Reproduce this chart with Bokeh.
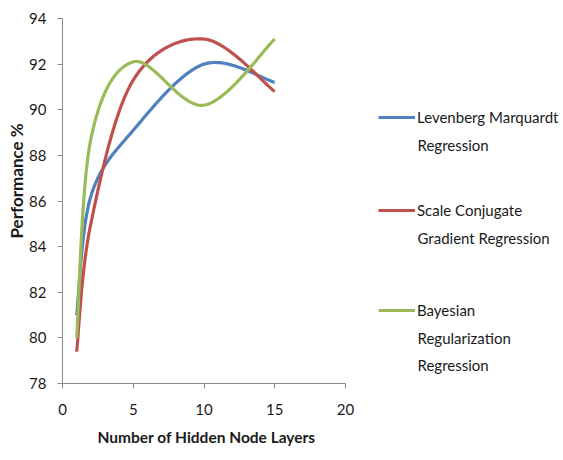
import numpy as np
from bokeh.plotting import figure
from bokeh.models import Legend, LegendItem, Label, Range1d, SingleIntervalTicker, Title
from bokeh.embed import file_html
from bokeh.resources import INLINE

# ---- data ----
hidden_layers = [1, 2, 5, 10, 15]
levenberg = [81.0, 86.2, 89.1, 92.0, 91.2]
scale_conjugate = [79.4, 85.0, 91.3, 93.1, 90.8]
bayesian = [80.0, 88.7, 92.1, 90.2, 93.1]

x_ticks_max = 20
x_title = "Number of Hidden Node Layers"
y_title = "Performance %"
series_names = ["Levenberg Marquardt", "Scale Conjugate", "Bayesian"]
series_more = [["Regression"], ["Gradient Regression"], ["Regularization", "Regression"]]
colors = ["#4F81BD", "#C0504D", "#9BBB59"]


def smooth(xs, ys, n=40):
    """Excel-style smoothed line (Catmull-Rom as cubic Bezier)."""
    pts = np.column_stack([xs, ys]).astype(float)
    P = np.vstack([pts[0], pts, pts[-1]])
    out = []
    for i in range(1, len(P) - 2):
        p0, p1, p2, p3 = P[i - 1], P[i], P[i + 1], P[i + 2]
        c1 = p1 + (p2 - p0) / 6.0
        c2 = p2 - (p3 - p1) / 6.0
        t = np.linspace(0, 1, n)[:, None]
        seg = (1 - t) ** 3 * p1 + 3 * (1 - t) ** 2 * t * c1 + 3 * (1 - t) * t ** 2 * c2 + t ** 3 * p2
        out.append(seg if i == 1 else seg[1:])
    a = np.vstack(out)
    return a[:, 0], a[:, 1]


FONT = "Lato"
TXT = "#1a1a1a"

W, H = 563, 460
LEFT, TOP, RIGHT, BOTTOM = 62, 18, 3, 77
frame_w = W - LEFT - RIGHT
axis_px = 283  # pixels spanned by 0..20 on the x axis
x_end = x_ticks_max * frame_w / axis_px

p = figure(width=W, height=H, output_backend="svg", toolbar_location=None,
           x_range=Range1d(0, x_end), y_range=Range1d(78, 94),
           min_border_left=LEFT, min_border_right=RIGHT, min_border_top=TOP, min_border_bottom=BOTTOM)
p.outline_line_color = None
p.grid.visible = False
p.background_fill_color = "white"
p.border_fill_color = "white"

p.xaxis.ticker = SingleIntervalTicker(interval=5)
p.xaxis.bounds = (0, x_ticks_max)
p.yaxis.ticker = SingleIntervalTicker(interval=2)
for ax in (p.xaxis[0], p.yaxis[0]):
    ax.axis_line_color = "#8a8a8a"
    ax.major_tick_line_color = "#8a8a8a"
    ax.major_tick_in = 0
    ax.major_tick_out = 5
    ax.minor_tick_line_color = None
    ax.major_label_text_font = FONT
    ax.major_label_text_font_size = "15px"
    ax.major_label_text_color = TXT
p.yaxis.major_label_standoff = 11
p.xaxis.major_label_standoff = 15

# axis titles, placed like the reference (x title under the 0..20 span, y title a bit above centre)
p.add_layout(Title(text=x_title, align="left", offset=35, standoff=17,
                   text_font=FONT, text_font_size="15.5px", text_font_style="bold",
                   text_color=TXT), "below")
p.add_layout(Title(text=y_title, align="left", offset=145, standoff=0,
                   text_font=FONT, text_font_size="17px", text_font_style="bold",
                   text_color=TXT), "left")

renderers = []
for ys, c in zip([levenberg, scale_conjugate, bayesian], colors):
    sx, sy = smooth(hidden_layers, ys)
    r = p.line(sx, sy, line_color=c, line_width=3.2)
    renderers.append(r)

# legend entries (positions relative to the plot frame, in screen px)
legend_y = [266, 173, 73]
for r, name, more, y in zip(renderers, series_names, series_more, legend_y):
    lg = Legend(items=[LegendItem(label=name, renderers=[r])], location=(316, y - 10),
                padding=0, margin=0, spacing=0, border_line_alpha=0, background_fill_alpha=0,
                glyph_width=37, glyph_height=20, label_height=20, label_standoff=2,
                label_text_font=FONT, label_text_font_size="15px", label_text_color=TXT)
    p.add_layout(lg)
    for k, line in enumerate(more):
        p.add_layout(Label(x=355, y=y - 27 * (k + 1), x_units="screen", y_units="screen",
                           text=line, text_baseline="middle", text_align="left",
                           text_font=FONT, text_font_size="15px", text_color=TXT))

open("out.html", "w").write(file_html(p, INLINE))
